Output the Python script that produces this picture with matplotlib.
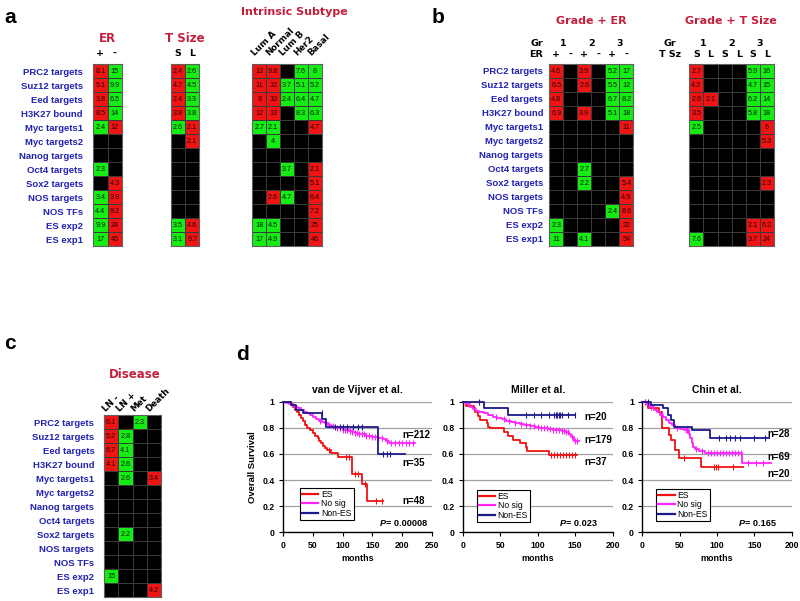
import numpy as np
import matplotlib
matplotlib.use("Agg")
import matplotlib.pyplot as plt
import matplotlib.transforms as mtrans
from matplotlib.colors import ListedColormap
from matplotlib.lines import Line2D

# ------------------------------------------------------------------ data
gene_sets = ["PRC2 targets", "Suz12 targets", "Eed targets", "H3K27 bound",
             "Myc targets1", "Myc targets2", "Nanog targets", "Oct4 targets",
             "Sox2 targets", "NOS targets", "NOS TFs", "ES exp2", "ES exp1"]

# signed values: >0 red, <0 green, 0 = not significant (black)
er_cols = ["+", "-"]
er_vals = [[8.1, -15], [5.1, -9.9], [3.8, -6.5], [8.5, -14], [-2.4, 12],
           [0, 0], [0, 0], [-2.3, 0], [0, 4.3], [-3.4, 3.9], [-4.4, 9.2],
           [-9.9, 24], [-17, 45]]

tsize_cols = ["S", "L"]
tsize_vals = [[2.4, -2.6], [4.7, -4.5], [2.4, -3.3], [3.8, -3.8], [-2.6, 2.1],
              [0, 2.1], [0, 0], [0, 0], [0, 0], [0, 0], [0, 0],
              [-3.5, 4.6], [-3.1, 9.7]]

subtype_cols = ["Lum A", "Normal", "Lum B", "Her2", "Basal"]
subtype_vals = [[13, 9.8, 0, -7.6, -8], [11, 12, -3.7, -5.1, -5.2],
                [9, 10, -2.4, -6.4, -4.7], [12, 13, 0, -8.3, -6.3],
                [-2.7, -2.1, 0, 0, 4.7], [0, -4, 0, 0, 0], [0, 0, 0, 0, 0],
                [0, 0, -3.7, 0, 2.1], [0, 0, 0, 0, 5.1], [0, 2.6, -4.7, 0, 6.4],
                [0, 0, 0, 0, 7.2], [-18, -4.5, 0, 0, 25], [-17, -4.9, 0, 0, 46]]

grade_groups = ["1", "2", "3"]
grade_er_cols = ["+", "-", "+", "-", "+", "-"]
grade_er_vals = [[4.6, 0, 3.9, 0, -5.2, -17], [6.5, 0, 2.6, 0, -5.5, -12],
                 [4.8, 0, 0, 0, -6.7, -8.2], [6.9, 0, 3.9, 0, -5.1, -18],
                 [0, 0, 0, 0, 0, 11], [0, 0, 0, 0, 0, 0], [0, 0, 0, 0, 0, 0],
                 [0, 0, -2.7, 0, 0, 0], [0, 0, -2.2, 0, 0, 5.4],
                 [0, 0, 0, 0, 0, 4.9], [0, 0, 0, 0, -2.4, 8.6],
                 [-2.3, 0, 0, 0, 0, 22], [-11, 0, -4.1, 0, 0, 54]]

grade_ts_cols = ["S", "L", "S", "L", "S", "L"]
grade_ts_vals = [[2.7, 0, 0, 0, -5.9, -16], [4.2, 0, 0, 0, -4.7, -15],
                 [2.6, 2.1, 0, 0, -6.2, -14], [3.5, 0, 0, 0, -5.8, -18],
                 [-2.5, 0, 0, 0, 0, 6], [0, 0, 0, 0, 0, 5.3], [0, 0, 0, 0, 0, 0],
                 [0, 0, 0, 0, 0, 0], [0, 0, 0, 0, 0, 2.3], [0, 0, 0, 0, 0, 0],
                 [0, 0, 0, 0, 0, 0], [0, 0, 0, 0, 2.1, 6.2], [-7.6, 0, 0, 0, 3.7, 24]]

disease_cols = ["LN -", "LN +", "Met", "Death"]
disease_vals = [[6.1, 0, -2.3, 0], [5.2, -2.8, 0, 0], [6.7, -4.1, 0, 0],
                [4.1, -2.6, 0, 0], [0, -2.6, 0, 3.4], [0, 0, 0, 0], [0, 0, 0, 0],
                [0, 0, 0, 0], [0, -2.2, 0, 0], [0, 0, 0, 0], [0, 0, 0, 0],
                [-15, 0, 0, 0], [0, 0, 0, 4.2]]

# Kaplan-Meier curves: step times (months), survival, censor times
km_groups = ["ES", "No sig", "Non-ES"]

vdv_es_t = [0, 14, 17, 20, 23, 27, 30, 33, 37, 41, 45, 50, 54, 58, 61, 64, 67, 70, 74, 80, 93, 115, 132, 141, 168]
vdv_es_s = [1, .98, .96, .94, .92, .90, .875, .85, .82, .80, .78, .76, .74, .72, .70, .68, .66, .645, .63, .61, .58, .45, .37, .24, .24]
vdv_es_c = [78, 105, 110, 121, 125, 138, 156, 166]
vdv_ns_t = [0, 5, 10, 15, 20, 25, 30, 35, 40, 45, 50, 55, 60, 65, 70, 75, 80, 85, 90, 95,
            100, 105, 110, 115, 120, 125, 130, 140, 150, 160, 168, 172, 178, 222]
vdv_ns_s = [1, .99, .98, .97, .96, .95, .94, .92, .91, .895, .88, .865, .855, .845, .835, .825, .815, .81, .80, .795,
            .785, .78, .775, .77, .76, .755, .75, .74, .73, .725, .715, .70, .68, .68]
vdv_ns_c = [62, 70, 78, 84, 90, 95, 100, 104, 108, 112, 116, 120, 124, 128, 132, 136, 140, 145,
            150, 155, 160, 166, 175, 182, 188, 194, 200, 206, 212, 218]
vdv_ne_t = [0, 14, 22, 34, 66, 72, 160, 204]
vdv_ne_s = [1, .975, .935, .915, .87, .81, .60, .60]
vdv_ne_c = [65, 88, 95, 100, 108, 118, 126, 133, 168, 174, 180]

mil_es_t = [0, 5, 15, 17, 20, 23, 32, 34, 37, 55, 60, 67, 77, 84, 86, 115, 152]
mil_es_s = [1, .97, .95, .92, .89, .86, .84, .81, .80, .77, .74, .71, .68, .65, .62, .59, .59]
mil_es_c = [118, 122, 126, 130, 134, 138, 142, 146, 150]
mil_ns_t = [0, 3, 6, 10, 14, 18, 22, 28, 34, 40, 46, 52, 58, 64, 70, 76, 82, 90, 96, 102,
            108, 114, 120, 126, 132, 138, 142, 145, 148, 155]
mil_ns_s = [1, .99, .98, .96, .945, .93, .92, .91, .90, .885, .875, .865, .855, .845, .84, .83, .825, .815, .81, .80,
            .795, .79, .785, .78, .775, .765, .75, .73, .70, .70]
mil_ns_c = [45, 55, 62, 70, 78, 84, 90, 95, 100, 104, 108, 112, 116, 120, 124, 128, 132, 135,
            138, 141, 146, 150, 153]
mil_ne_t = [0, 28, 60, 150]
mil_ne_s = [1, .95, .90, .90]
mil_ne_c = [22, 85, 95, 105, 115, 122, 124, 126, 128, 130, 133, 140, 150]

chin_es_t = [0, 8, 22, 26, 36, 39, 44, 49, 78, 135]
chin_es_s = [1, .95, .92, .80, .745, .71, .63, .57, .50, .50]
chin_es_c = [4, 56, 96, 99, 102, 122]
chin_ns_t = [0, 5, 10, 15, 20, 24, 28, 32, 36, 40, 44, 50, 56, 62, 64, 66, 68, 70, 76, 84, 134, 172]
chin_ns_s = [1, .98, .96, .94, .92, .90, .88, .86, .84, .82, .80, .79, .78, .75, .72, .68, .65, .64, .62, .61, .53, .53]
chin_ns_c = [4, 12, 26, 46, 58, 60, 72, 80, 88, 92, 96, 100, 104, 108, 112, 116, 120, 124, 128,
             132, 142, 152, 162]
chin_ne_t = [0, 12, 28, 35, 39, 42, 66, 91, 170]
chin_ne_s = [1, .975, .95, .90, .86, .81, .78, .72, .72]
chin_ne_c = [8, 103, 112, 117, 124, 131, 149, 164]

km_titles = ["van de Vijver et al.", "Miller et al.", "Chin et al."]
km_xmax = [250, 200, 200]
km_n_labels = [["n=212", "n=35", "n=48"], ["n=20", "n=179", "n=37"], ["n=28", "n=69", "n=20"]]
km_n_y = [[0.745, 0.533, 0.24], [0.885, 0.707, 0.54], [0.753, 0.574, 0.444]]
km_pvals = ["0.00008", "0.023", "0.165"]

# ------------------------------------------------------------------ style
W, H = 800, 601
RED = "#f01414"
GREEN = "#14ec14"
BLUE = "#2222b4"
CRIMSON = "#c2203c"
KM_COLORS = ["#ee1111", "#ff22ff", "#1a1a8c"]
SANS = ["Liberation Sans", "DejaVu Sans"]
VERD = ["DejaVu Sans"]
NARROW = ["Liberation Sans Narrow", "Liberation Sans", "DejaVu Sans"]

fig = plt.figure(figsize=(W / 100, H / 100), dpi=100)
fig.patch.set_facecolor("white")


def px_axes(x0, y0, x1, y1):
    return fig.add_axes([x0 / W, 1 - y1 / H, (x1 - x0) / W, (y1 - y0) / H])


def ftext(x, y, s, **kw):
    return fig.text(x / W, 1 - y / H, s, **kw)


def col_text(ax, labels, y, offset=0.5, **kw):
    tr = mtrans.blended_transform_factory(ax.transData, fig.transFigure)
    for j, lab in enumerate(labels):
        ax.text(j + offset, 1 - y / H, lab, transform=tr, clip_on=False, **kw)


def heatmap(rect, vals, row_labels=None, pad=7):
    v = np.array(vals, dtype=float)
    nr, nc = v.shape
    ax = px_axes(*rect)
    cmap = ListedColormap([GREEN, "black", RED])
    ax.pcolormesh(np.arange(nc + 1), np.arange(nr + 1), np.sign(v), cmap=cmap,
                  vmin=-1.5, vmax=1.5, edgecolors="#3a3a3a", linewidth=0.6)
    ax.set_xlim(0, nc)
    ax.set_ylim(nr, 0)
    for i in range(nr):
        for j in range(nc):
            if v[i, j] != 0:
                ax.text(j + 0.5, i + 0.55, f"{abs(v[i, j]):g}", ha="center", va="center",
                        fontsize=5.2, family=NARROW,
                        color="#2a0000" if v[i, j] > 0 else "#002000")
    ax.set_xticks([])
    if row_labels is not None:
        ax.set_yticks(np.arange(nr) + 0.5)
        ax.set_yticklabels(row_labels, color=BLUE, fontweight="bold", fontsize=6.8,
                           family=SANS)
        ax.tick_params(axis="y", length=0, pad=pad)
    else:
        ax.set_yticks([])
    for sp in ax.spines.values():
        sp.set_color("#606060")
        sp.set_linewidth(0.8)
    return ax


title_kw = dict(color=CRIMSON, fontweight="bold", family=VERD, ha="center", va="center")
hdr_kw = dict(color="black", fontweight="bold", family=VERD, ha="center", va="center", fontsize=6.8)
rot_kw = dict(color="black", fontweight="bold", family=VERD, ha="left", va="baseline",
              rotation=45, rotation_mode="anchor", fontsize=6.3)
panel_kw = dict(fontsize=15, fontweight="bold", family=SANS, ha="left", va="baseline")

# ------------------------------------------------------------------ panel a
ftext(4, 23, "a", **panel_kw)
ax_er = heatmap((93.3, 64.3, 122, 246), er_vals, gene_sets, pad=7.5)
ftext(107.7, 39, "ER", fontsize=8.5, **title_kw)
col_text(ax_er, er_cols, 53, **hdr_kw)

ax_ts = heatmap((171, 64.3, 199.3, 246), tsize_vals)
ftext(185, 39, "T Size", fontsize=8.5, **title_kw)
col_text(ax_ts, tsize_cols, 53, **hdr_kw)

ax_st = heatmap((252.3, 64.3, 322, 246), subtype_vals)
ftext(294, 12, "Intrinsic Subtype", fontsize=8, **title_kw)
col_text(ax_st, subtype_cols, 56, offset=0.2, **rot_kw)

# ------------------------------------------------------------------ panel b
ftext(432, 23, "b", **panel_kw)
ax_ge = heatmap((549.3, 63.5, 633.3, 246), grade_er_vals, gene_sets, pad=4.5)
ftext(591, 21, "Grade + ER", fontsize=8, **title_kw)
ftext(543, 43, "Gr", **dict(hdr_kw, ha="right"))
ftext(543, 54.5, "ER", **dict(hdr_kw, ha="right"))
col_text(ax_ge, grade_groups, 43, offset=0.0, **hdr_kw)
ax_ge.texts[-3:]  # group labels placed between column pairs
for k, t in enumerate(ax_ge.texts[-3:]):
    t.set_x(2 * k + 1.0)
col_text(ax_ge, grade_er_cols, 54.5, **hdr_kw)

ax_gt = heatmap((689.3, 63.5, 774, 246), grade_ts_vals)
ftext(731, 21, "Grade + T Size", fontsize=8, **title_kw)
ftext(670, 43, "Gr", **hdr_kw)
ftext(670, 54.5, "T Sz", **hdr_kw)
col_text(ax_gt, grade_groups, 43, offset=0.0, **hdr_kw)
for k, t in enumerate(ax_gt.texts[-3:]):
    t.set_x(2 * k + 1.0)
col_text(ax_gt, grade_ts_cols, 54.5, **hdr_kw)

# ------------------------------------------------------------------ panel c
ftext(4, 349, "c", **panel_kw)
ax_d = heatmap((104, 415, 161, 597), disease_vals, gene_sets, pad=7)
ftext(135, 375, "Disease", fontsize=8.5, **title_kw)
col_text(ax_d, disease_cols, 412, offset=0.15, **rot_kw)

# ------------------------------------------------------------------ panel d
ftext(236, 360, "d", **panel_kw)

km_sets = [
    [(vdv_es_t, vdv_es_s, vdv_es_c), (vdv_ns_t, vdv_ns_s, vdv_ns_c), (vdv_ne_t, vdv_ne_s, vdv_ne_c)],
    [(mil_es_t, mil_es_s, mil_es_c), (mil_ns_t, mil_ns_s, mil_ns_c), (mil_ne_t, mil_ne_s, mil_ne_c)],
    [(chin_es_t, chin_es_s, chin_es_c), (chin_ns_t, chin_ns_s, chin_ns_c), (chin_ne_t, chin_ne_s, chin_ne_c)],
]
km_rects = [(283, 401.7, 432, 532.3), (462.7, 401.7, 612.7, 532.3), (642.3, 401.7, 791.7, 532.3)]
km_leg_xy = [(0.114, 0.094), (0.093, 0.081), (0.092, 0.087)]
km_n_x = [0.80, 0.81, 0.835]
km_p_x = [0.97, 0.895, 0.893]

for k in range(3):
    ax = px_axes(*km_rects[k])
    for (t, s, c), col in zip(km_sets[k], KM_COLORS):
        t = np.asarray(t, float)
        s = np.asarray(s, float)
        ax.step(t, s, where="post", color=col, lw=1.3, clip_on=False, zorder=3)
        idx = np.searchsorted(t, np.asarray(c, float), side="right") - 1
        ax.plot(c, s[idx], ls="none", marker="|", ms=4.5, mew=0.8, color=col,
                zorder=3, clip_on=False)
    ax.set_xlim(0, km_xmax[k])
    ax.set_ylim(0, 1)
    yt = np.arange(0, 1.01, 0.2)
    ax.set_yticks(yt)
    ax.set_yticklabels([f"{v:g}" for v in yt])
    xt = np.arange(0, km_xmax[k] + 1, 50)
    ax.set_xticks(xt)
    ax.set_xticklabels([f"{v:g}" for v in xt])
    ax.yaxis.grid(True, color="#a0a0a0", lw=0.9)
    ax.set_axisbelow(True)
    for lab in ax.get_xticklabels() + ax.get_yticklabels():
        lab.set_fontweight("bold")
        lab.set_family(SANS)
        lab.set_fontsize(6.2)
    ax.tick_params(length=3, width=0.8, pad=3, color="black")
    ax.spines["top"].set_visible(False)
    ax.spines["right"].set_visible(False)
    ax.spines["left"].set_linewidth(1.0)
    ax.spines["bottom"].set_linewidth(1.0)
    ax.set_title(km_titles[k], fontsize=7.5, fontweight="bold", family=SANS, pad=6)
    ax.set_xlabel("months", fontsize=6.4, fontweight="bold", family=SANS, labelpad=3)
    if k == 0:
        ax.set_ylabel("Overall Survival", fontsize=6.8, fontweight="bold", family=SANS, labelpad=4)
    for lab, yy in zip(km_n_labels[k], km_n_y[k]):
        ax.text(km_n_x[k], yy, lab, transform=ax.transAxes, ha="left", va="center",
                fontsize=7, fontweight="bold", family=SANS)
    ptxt = ax.text(km_p_x[k], 0.07, "= " + km_pvals[k], transform=ax.transAxes, ha="right",
                   va="center", fontsize=6.6, fontweight="bold", family=SANS)
    ax.annotate("P", xy=(0, 0.5), xycoords=ptxt, ha="right", va="center", fontsize=6.6,
                fontweight="bold", style="italic", family=SANS)
    handles = [Line2D([], [], color=c, lw=1.6) for c in KM_COLORS]
    leg = ax.legend(handles, km_groups, loc="lower left", bbox_to_anchor=km_leg_xy[k],
                    borderaxespad=0, fancybox=False, framealpha=1, edgecolor="black",
                    prop=dict(family=SANS, size=6.2), handlelength=1.9, handletextpad=0.3,
                    labelspacing=0.05, borderpad=0.25)
    leg.get_frame().set_linewidth(0.8)

fig.savefig("out.png", dpi=100, facecolor="white")
